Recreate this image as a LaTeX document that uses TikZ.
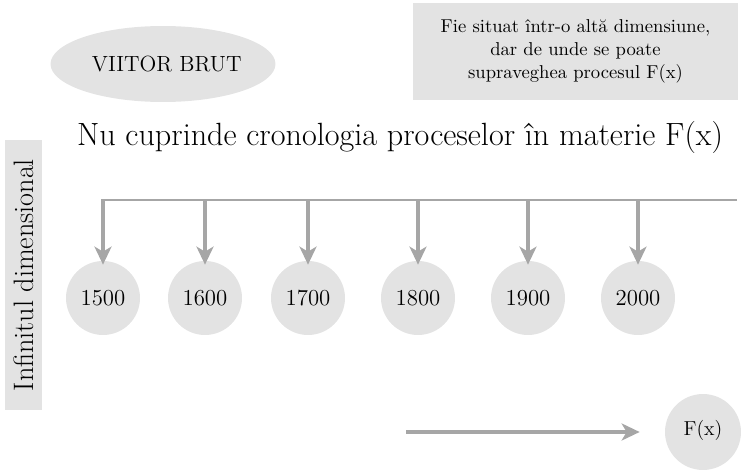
\documentclass[tikz,border=0pt]{standalone}
\usepackage{tikz}
\usetikzlibrary{arrows.meta,shapes.geometric}

\begin{document}
\begin{tikzpicture}[x=0.02cm, y=-0.02cm,
    shade/.style = {fill=gray!22, draw=none},
    year/.style = {shade, circle, minimum size=1.48cm, inner sep=0pt, font=\fontsize{13}{15}\selectfont},
    drop/.style = {draw=gray!70, line width=2.3pt, -{Stealth[length=0.36cm,width=0.34cm,inset=0.1cm]}}]
  \useasboundingbox (0,0) rectangle (745,473);

  \node[shade, ellipse, inner sep=0pt, minimum width=4.5cm, minimum height=1.52cm, font=\fontsize{12.5}{15}\selectfont] (brut) at (163,64) {\hspace{0.15cm}VIITOR BRUT};
  \node[shade, minimum width=6.5cm, minimum height=1.94cm, align=center, font=\fontsize{10.6}{13}\selectfont] (above) at (575.5,51.5)
    {Fie situat într-o altă dimensiune,\\dar de unde se poate\\supraveghea procesul F(x)};
  \node[font=\fontsize{18.3}{22}\selectfont] (title) at (400,137) {Nu cuprinde cronologia proceselor în materie F(x)};
  \node[shade, minimum width=5.4cm, minimum height=0.74cm, rotate=90, font=\fontsize{16}{18}\selectfont] (inf) at (23.5,275) {Infinitul dimensional};

  \node[year] (a) at (103,298) {1500};
  \node[year] (b) at (205,298) {1600};
  \node[year] (c) at (308,298) {1700};
  \node[year] (d) at (418,298) {1800};
  \node[year] (e) at (528,298) {1900};
  \node[year] (f) at (638,298) {2000};
  \node[year, minimum size=1.52cm, font=\fontsize{11.5}{13}\selectfont] (fx) at (703,432) {\raisebox{0.15cm}{F(x)}};

  \coordinate (left) at (101,200);
  \coordinate (right) at (737,200);
  \coordinate (start) at (406,432);

  \draw[gray!70, line width=1.2pt] (left) -- (right);
  \draw[drop] (a |- left) -- ([yshift=-0.08cm]a.north);
  \draw[drop] (b |- left) -- ([yshift=-0.08cm]b.north);
  \draw[drop] (c |- left) -- ([yshift=-0.08cm]c.north);
  \draw[drop] (d |- left) -- ([yshift=-0.08cm]d.north);
  \draw[drop] (e |- left) -- ([yshift=-0.08cm]e.north);
  \draw[drop] (f |- left) -- ([yshift=-0.08cm]f.north);
  \draw[drop, shorten >=0.5cm] (start) -- (fx);
\end{tikzpicture}
\end{document}
